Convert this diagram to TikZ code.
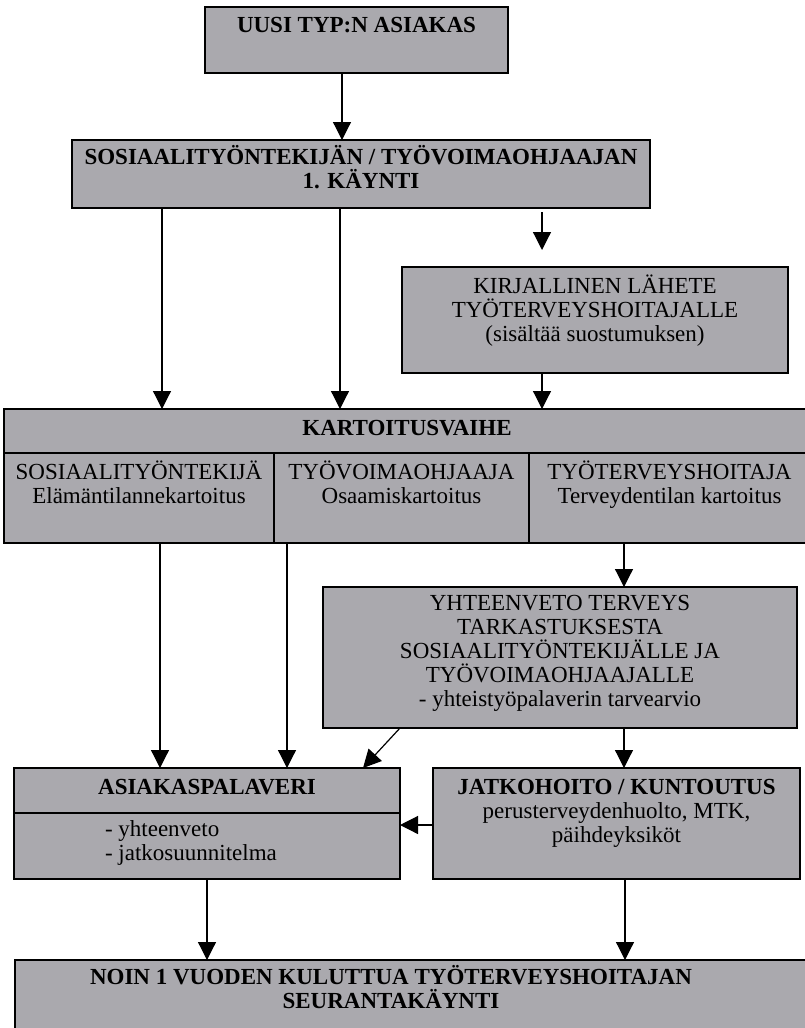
\documentclass[tikz,border=0pt]{standalone}
\usepackage{fontspec}
\setmainfont{Liberation Serif}
\usetikzlibrary{arrows.meta}
\definecolor{boxgrey}{RGB}{170,169,174}
% top-aligned, centred box content: width, height, first baseline, text
\newcommand{\cellbox}[4]{\parbox[t][#2][t]{#1}{\centering\rule{0pt}{#3}#4\par}}
\tikzset{
  box/.style={draw=black, line width=1.8pt, fill=boxgrey, inner sep=0pt,
    outer sep=0pt, anchor=north west, font=\fontsize{23}{24}\selectfont},
  arr/.style={draw=black, line width=1.2pt, -{Triangle[width=18pt,length=18pt]}},
}
\begin{document}
\begin{tikzpicture}[x=1pt,y=-1pt]
\clip (0,0) rectangle (805,1028);

% boxes
\node[box] (uusi) at (205,7)
  {\cellbox{303pt}{66pt}{25pt}{\bfseries UUSI TYP:N ASIAKAS}};
\node[box] (kaynti) at (72,140)
  {\cellbox{578pt}{68pt}{24pt}{\bfseries SOSIAALITYÖNTEKIJÄN / TYÖVOIMAOHJAAJAN\\1. KÄYNTI}};
\node[box] (lahete) at (402,267)
  {\cellbox{386pt}{106pt}{26pt}{KIRJALLINEN LÄHETE\\TYÖTERVEYSHOITAJALLE\\(sisältää suostumuksen)}};

\node[box] (kartoitus) at (4,409)
  {\cellbox{806pt}{44pt}{26pt}{\bfseries KARTOITUSVAIHE}};
\node[box] (sos) at (4,453)
  {\cellbox{270pt}{90pt}{26pt}{SOSIAALITYÖNTEKIJÄ\\Elämäntilannekartoitus}};
\node[box] (tyov) at (274,453)
  {\cellbox{255pt}{90pt}{26pt}{TYÖVOIMAOHJAAJA\\Osaamiskartoitus}};
\node[box] (tth) at (529,453)
  {\cellbox{281pt}{90pt}{26pt}{TYÖTERVEYSHOITAJA\\Terveydentilan kartoitus}};

\node[box] (yht) at (323,587)
  {\cellbox{474pt}{141pt}{23pt}{YHTEENVETO TERVEYS\\TARKASTUKSESTA\\SOSIAALITYÖNTEKIJÄLLE JA\\TYÖVOIMAOHJAAJALLE\\- yhteistyöpalaverin tarvearvio}};

\node[box] (palaveri) at (14,768)
  {\cellbox{386pt}{45pt}{26pt}{\bfseries ASIAKASPALAVERI}};
\node[box] (palaveriB) at (14,813)
  {\parbox[t][66pt][t]{386pt}{\raggedright\rule{0pt}{23pt}\hspace*{91pt}- yhteenveto\\
   \hspace*{91pt}- jatkosuunnitelma\par}};
\node[box] (jatko) at (433,768)
  {\cellbox{367pt}{111pt}{26pt}{\textbf{JATKOHOITO / KUNTOUTUS}\\perusterveydenhuolto, MTK,\\päihdeyksiköt}};

\node[box] (seuranta) at (15,960)
  {\parbox[t][80pt][t]{795pt}{\rule{0pt}{24pt}\parbox[t]{752pt}{\centering\bfseries
   NOIN 1 VUODEN KULUTTUA TYÖTERVEYSHOITAJAN\\SEURANTAKÄYNTI}\par}};

% connectors
\draw[arr] (342,0 |- uusi.south) -- (342,0 |- kaynti.north);
\draw[arr] (162,0 |- kaynti.south) -- (162,0 |- kartoitus.north);
\draw[arr] (340,0 |- kaynti.south) -- (340,0 |- kartoitus.north);
\draw[arr, shorten <=4pt, shorten >=17pt] (542,0 |- kaynti.south) -- (542,0 |- lahete.north);
\draw[arr] (542,0 |- lahete.south) -- (542,0 |- kartoitus.north);
\draw[arr] (160,0 |- sos.south) -- (160,0 |- palaveri.north);
\draw[arr] (287,0 |- tyov.south) -- (287,0 |- palaveri.north);
\draw[arr] (624,0 |- tth.south) -- (624,0 |- yht.north);
\draw[arr] (400,0 |- yht.south) -- (363,0 |- palaveri.north);
\draw[arr] (624,0 |- yht.south) -- (624,0 |- jatko.north);
\draw[arr] (jatko.west |- 0,825) -- (palaveriB.east |- 0,825);
\draw[arr] (207,0 |- palaveriB.south) -- (207,0 |- seuranta.north);
\draw[arr] (625,0 |- jatko.south) -- (625,0 |- seuranta.north);
\end{tikzpicture}
\end{document}
